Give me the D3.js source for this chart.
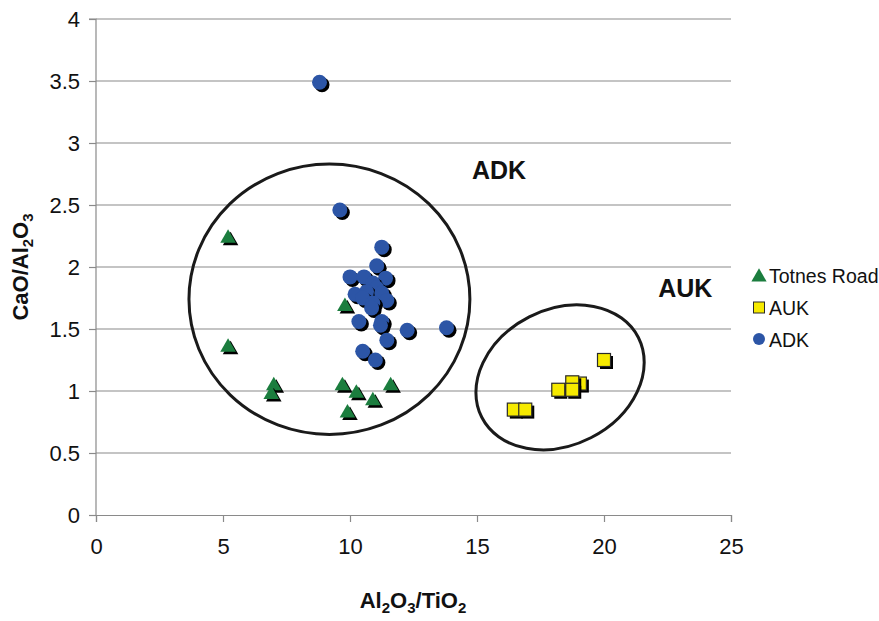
<!DOCTYPE html>
<html>
<head>
  <meta charset="utf-8">
  <title>CaO/Al2O3 vs Al2O3/TiO2</title>
  <script src="https://d3js.org/d3.v7.min.js"></script>
  <style>
    body { margin: 0; background: #fff; }
    text { font-family: "Liberation Sans", Arial, Helvetica, sans-serif; }
  </style>
</head>
<body>
  <script>
    // Totnes Road (triangles)
    var totnesX = [5.2, 5.2, 9.8, 7.0, 6.9, 9.7, 10.25, 10.9, 11.6, 9.9];
    var totnesY = [2.24, 1.36, 1.69, 1.05, 0.98, 1.05, 0.99, 0.93, 1.05, 0.83];

    // AUK (squares)
    var aukX = [20.0, 19.05, 18.75, 18.2, 18.75, 16.45, 16.9];
    var aukY = [1.25, 1.06, 1.07, 1.01, 1.01, 0.85, 0.85];

    // ADK (circles)
    var adkX = [8.8, 9.6, 11.25, 11.05, 10.0, 10.55, 11.4, 10.9, 11.05, 10.2, 10.65, 11.25,
                10.5, 11.45, 10.9, 10.85, 10.35, 11.25, 11.2, 12.25, 13.8, 11.45, 10.5, 11.0];
    var adkY = [3.49, 2.46, 2.16, 2.01, 1.92, 1.92, 1.91, 1.87, 1.83, 1.78, 1.80, 1.79,
                1.75, 1.73, 1.71, 1.67, 1.56, 1.56, 1.53, 1.49, 1.51, 1.41, 1.32, 1.25];

    var xTicks = [0, 5, 10, 15, 20, 25];
    var yTicks = [0, 0.5, 1, 1.5, 2, 2.5, 3, 3.5, 4];

    var margin = { top: 19, left: 96 };
    var plotW = 635, plotH = 496;

    var svg = d3.select('body').append('svg')
      .attr('width', 879)
      .attr('height', 621);

    var g = svg.append('g')
      .attr('transform', 'translate(' + margin.left + ',' + margin.top + ')');

    var x = d3.scaleLinear().domain([0, 25]).range([0, plotW]);
    var y = d3.scaleLinear().domain([0, 4]).range([plotH, 0]);

    // horizontal gridlines
    g.selectAll('line.grid')
      .data(yTicks.filter(function(d) { return d > 0; }))
      .enter().append('line')
      .attr('class', 'grid')
      .attr('x1', 0).attr('x2', plotW)
      .attr('y1', function(d) { return y(d); })
      .attr('y2', function(d) { return y(d); })
      .attr('stroke', '#8a8a8a')
      .attr('stroke-width', 1.2);

    var yAxis = g.append('g')
      .call(d3.axisLeft(y).tickValues(yTicks).tickSize(7).tickPadding(9)
        .tickFormat(function(d) { return String(d); }));
    var xAxis = g.append('g')
      .attr('transform', 'translate(0,' + plotH + ')')
      .call(d3.axisBottom(x).tickValues(xTicks).tickSize(7).tickPadding(16));

    [xAxis, yAxis].forEach(function(ax) {
      ax.select('.domain').attr('stroke', '#8a8a8a').attr('stroke-width', 1.2);
      ax.selectAll('.tick line').attr('stroke', '#8a8a8a').attr('stroke-width', 1.2);
      ax.selectAll('.tick text')
        .attr('fill', '#111')
        .style('font-size', '22px')
        .style('font-family', '"Liberation Sans", Arial, Helvetica, sans-serif');
    });
    yAxis.select('.domain').attr('d', 'M-7,0H0V' + plotH);

    // enclosing ellipses
    g.append('ellipse')
      .attr('cx', x(9.19)).attr('cy', y(1.74))
      .attr('rx', x(5.53) - x(0)).attr('ry', y(0) - y(1.09))
      .attr('fill', 'none').attr('stroke', '#1a1a1a').attr('stroke-width', 3);

    g.append('ellipse')
      .attr('cx', 0).attr('cy', 0)
      .attr('rx', x(3.46) - x(0)).attr('ry', x(2.67) - x(0))
      .attr('transform', 'translate(' + x(18.27) + ',' + y(1.11) + ') rotate(-27)')
      .attr('fill', 'none').attr('stroke', '#1a1a1a').attr('stroke-width', 3);

    var tri = d3.symbol().type(d3.symbolTriangle).size(105);
    var sh = 2.5;

    function pts(xs, ys) {
      return xs.map(function(v, i) { return { x: v, y: ys[i] }; });
    }

    // triangles
    var tg = g.selectAll('g.tri').data(pts(totnesX, totnesY)).enter().append('g')
      .attr('transform', function(d) { return 'translate(' + x(d.x) + ',' + y(d.y) + ')'; });
    tg.append('path').attr('d', tri).attr('transform', 'translate(' + sh + ',' + (sh + 1) + ')').attr('fill', '#000');
    tg.append('path').attr('d', tri).attr('transform', 'translate(0,1)').attr('fill', '#1b7d3e');

    // squares
    var sq = g.selectAll('g.sq').data(pts(aukX, aukY)).enter().append('g')
      .attr('transform', function(d) { return 'translate(' + x(d.x) + ',' + y(d.y) + ')'; });
    sq.append('rect').attr('x', -6.5 + sh).attr('y', -6.5 + sh).attr('width', 13).attr('height', 13).attr('fill', '#000');
    sq.append('rect').attr('x', -6.5).attr('y', -6.5).attr('width', 13).attr('height', 13)
      .attr('fill', '#f6ea00').attr('stroke', '#2a2a2a').attr('stroke-width', 1.2);

    // circles
    var cg = g.selectAll('g.dot').data(pts(adkX, adkY)).enter().append('g')
      .attr('transform', function(d) { return 'translate(' + x(d.x) + ',' + y(d.y) + ')'; });
    cg.append('circle').attr('cx', sh).attr('cy', sh).attr('r', 7.5).attr('fill', '#000');
    cg.append('circle').attr('r', 7.5).attr('fill', '#2c55a6');

    // group labels
    g.append('text').attr('x', x(15.87)).attr('y', y(2.71)).attr('text-anchor', 'middle')
      .style('font-size', '25px').style('font-weight', 'bold').attr('fill', '#111').text('ADK');
    g.append('text').attr('x', x(23.2)).attr('y', y(1.76)).attr('text-anchor', 'middle')
      .style('font-size', '25px').style('font-weight', 'bold').attr('fill', '#111').text('AUK');

    // legend
    var legend = svg.append('g').attr('transform', 'translate(759,0)');
    legend.append('path').attr('d', d3.symbol().type(d3.symbolTriangle).size(100))
      .attr('transform', 'translate(0,277)').attr('fill', '#1b7d3e');
    legend.append('rect').attr('x', -5.5).attr('y', 302).attr('width', 11).attr('height', 11)
      .attr('fill', '#f6ea00').attr('stroke', '#2a2a2a').attr('stroke-width', 1);
    legend.append('circle').attr('cx', 0).attr('cy', 339).attr('r', 6).attr('fill', '#2c55a6');
    [['Totnes Road', 283], ['AUK', 315], ['ADK', 347]].forEach(function(l) {
      legend.append('text').attr('x', 10).attr('y', l[1])
        .style('font-size', '19.5px').attr('fill', '#111').text(l[0]);
    });

    // axis titles
    var xt = svg.append('text').attr('x', 413).attr('y', 613).attr('text-anchor', 'middle')
      .style('font-size', '22px').style('font-weight', 'bold').attr('fill', '#111');
    [['Al', 0], ['2', 1], ['O', 0], ['3', 1], ['/TiO', 0], ['2', 1]].forEach(function(p) {
      xt.append('tspan').text(p[0])
        .attr('dy', p[1] ? 5 : (xt.selectAll('tspan').size() > 0 ? -5 : 0))
        .style('font-size', p[1] ? '15px' : '22px');
    });

    var yt = svg.append('text')
      .attr('transform', 'translate(33,267) rotate(-90)')
      .attr('text-anchor', 'middle')
      .style('font-size', '22px').style('font-weight', 'bold').attr('fill', '#111');
    [['CaO/Al', 0], ['2', 1], ['O', 0], ['3', 1]].forEach(function(p) {
      yt.append('tspan').text(p[0])
        .attr('dy', p[1] ? 5 : (yt.selectAll('tspan').size() > 0 ? -5 : 0))
        .style('font-size', p[1] ? '15px' : '22px');
    });
  </script>
</body>
</html>
